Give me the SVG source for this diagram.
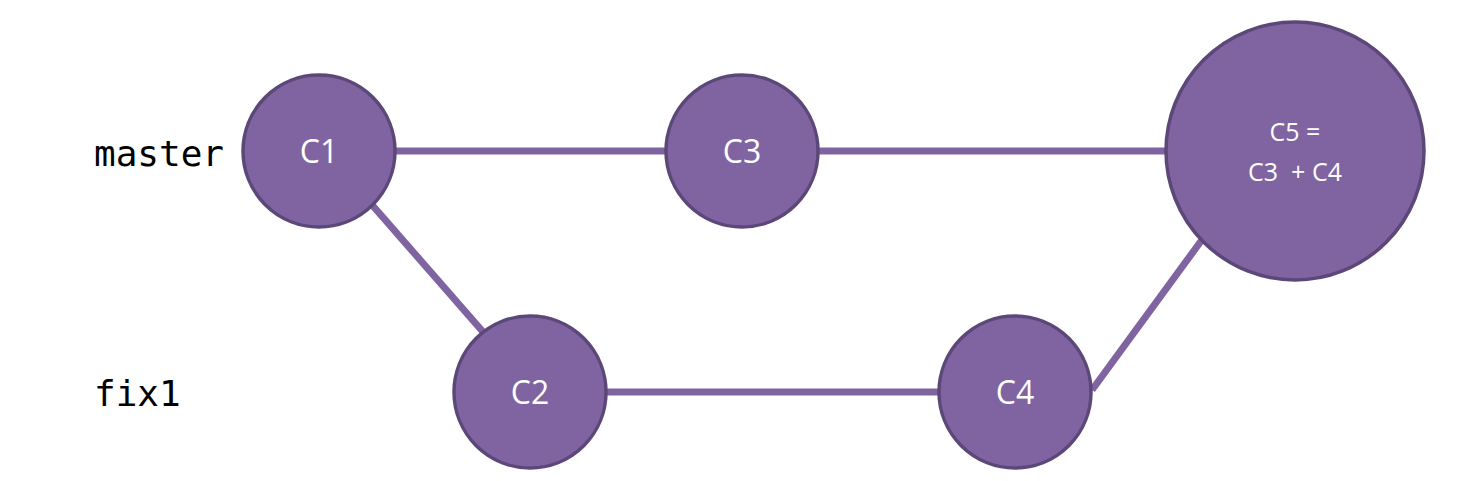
<svg xmlns="http://www.w3.org/2000/svg" width="1460" height="481" viewBox="0 0 1460 481">
<style>
.edge{stroke:#8064A2;stroke-width:7;fill:none}
.node{fill:#8064A2;stroke:#5C4878;stroke-width:3.5}
.lbl{fill:#FFFFFF;font-family:"Open Sans","Liberation Sans",sans-serif;text-anchor:middle;white-space:pre}
.br{fill:#000;font-family:"DejaVu Sans Mono","Liberation Mono",monospace;font-size:36px}
</style>
<rect width="1460" height="481" fill="#FFFFFF"/>
<g id="labels">
<text class="br" x="94" y="166">master</text>
<text class="br" x="94" y="406">fix1</text>
</g>
<g id="connectors">
<line class="edge" x1="396" y1="151" x2="666" y2="151"/>
<line class="edge" x1="818" y1="151" x2="1166" y2="151"/>
<line class="edge" x1="373" y1="206" x2="484" y2="333"/>
<line class="edge" x1="607" y1="392" x2="939" y2="392"/>
<line class="edge" x1="1092" y1="390" x2="1204" y2="237"/>
</g>
<g id="C1"><circle class="node" cx="319" cy="151" r="76"/><text class="lbl" x="319" y="163" font-size="32">C1</text></g>
<g id="C3"><circle class="node" cx="742" cy="151" r="76"/><text class="lbl" x="742" y="163" font-size="32">C3</text></g>
<g id="C5"><circle class="node" cx="1295" cy="151" r="129"/><text class="lbl" x="1295" y="141" font-size="25">C5 =</text><text class="lbl" x="1295" y="181" font-size="25" xml:space="preserve">C3  + C4</text></g>
<g id="C2"><circle class="node" cx="530" cy="392" r="76"/><text class="lbl" x="530" y="404" font-size="32">C2</text></g>
<g id="C4"><circle class="node" cx="1015" cy="392" r="76"/><text class="lbl" x="1015" y="404" font-size="32">C4</text></g>
</svg>
